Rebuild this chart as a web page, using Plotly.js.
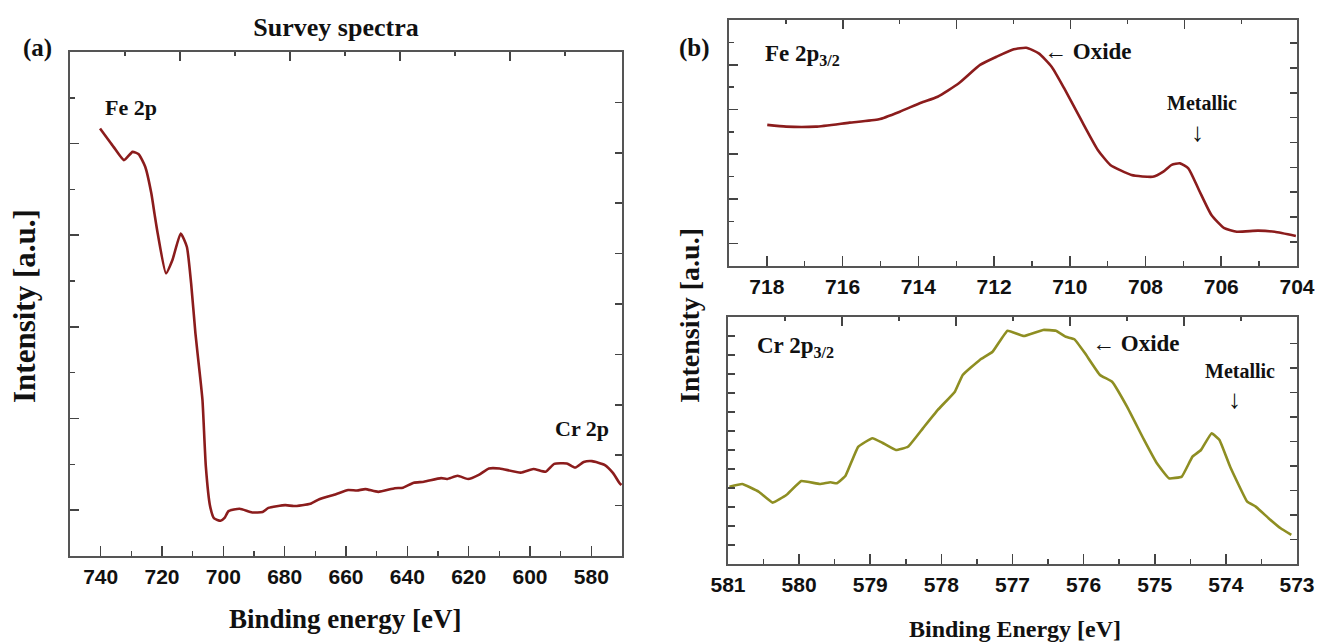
<!DOCTYPE html>
<html>
<head>
<meta charset="utf-8">
<script src="https://cdn.plot.ly/plotly-3.0.1.min.js"></script>
<style>
  html, body { margin: 0; padding: 0; background: #fff; overflow: hidden; }
  #chart { width: 1320px; height: 643px; }
</style>
</head>
<body>
<div id="chart"></div>
<script>
// ---- Survey spectrum (binding energy in eV, intensity in a.u.) ----
const surveyEnergy = [740.2, 735.8, 732.4, 729.6, 727.6, 725.5, 723.5, 722.4, 721.4, 718.7,
  716.6, 713.9, 711.9, 710.5, 709.1, 707.7, 706.8, 705.7, 704.3, 703.0,
  700.9, 699.6, 698.3, 694.7, 690.6, 687.2, 685.3, 679.8, 677.0, 671.6,
  668.7, 663.3, 659.3, 656.4, 653.7, 649.5, 644.1, 641.4, 637.9, 634.6,
  629.0, 627.1, 623.6, 620.2, 616.7, 613.4, 609.9, 603.0, 598.9, 594.9,
  592.1, 588.0, 585.3, 582.5, 579.8, 575.7, 572.9, 570.9, 570.2];
const surveyIntensity = [9.33, 8.93, 8.64, 8.82, 8.77, 8.50, 7.92, 7.45, 7.04, 6.17,
  6.46, 7.04, 6.75, 5.95, 4.86, 3.99, 3.40, 1.95, 1.08, 0.82,
  0.77, 0.83, 0.98, 1.03, 0.95, 0.96, 1.05, 1.11, 1.09, 1.14,
  1.24, 1.35, 1.44, 1.43, 1.46, 1.40, 1.48, 1.49, 1.60, 1.62,
  1.70, 1.68, 1.75, 1.68, 1.77, 1.91, 1.91, 1.82, 1.90, 1.84,
  2.01, 2.02, 1.93, 2.05, 2.07, 1.99, 1.81, 1.60, 1.55];

// ---- Fe 2p3/2 high-resolution region ----
const feEnergy = [717.99, 717.49, 716.71, 715.82, 715.04, 714.49, 713.93, 713.49, 712.93, 712.37,
  711.93, 711.48, 711.15, 710.82, 710.48, 710.15, 709.70, 709.26, 708.93, 708.37,
  707.81, 707.53, 707.31, 707.09, 706.87, 706.59, 706.26, 705.92, 705.59, 705.03,
  704.59, 704.03];
const feIntensity = [6.31, 6.23, 6.23, 6.41, 6.56, 6.90, 7.30, 7.57, 8.17, 8.99,
  9.36, 9.69, 9.76, 9.51, 8.91, 7.95, 6.53, 5.19, 4.52, 4.07,
  3.99, 4.22, 4.52, 4.59, 4.37, 3.40, 2.28, 1.69, 1.53, 1.58,
  1.53, 1.34];

// ---- Cr 2p3/2 high-resolution region ----
const crEnergy = [580.98, 580.80, 580.57, 580.37, 580.18, 579.97, 579.71, 579.56, 579.47, 579.35,
  579.17, 578.97, 578.83, 578.64, 578.47, 578.26, 578.05, 577.81, 577.70, 577.46,
  577.28, 577.07, 576.84, 576.57, 576.39, 576.25, 576.13, 575.98, 575.77, 575.60,
  575.39, 575.15, 574.97, 574.80, 574.62, 574.47, 574.35, 574.20, 574.09, 573.94,
  573.70, 573.58, 573.40, 573.23, 573.08];
const crIntensity = [4.07, 4.21, 3.81, 3.23, 3.63, 4.37, 4.21, 4.30, 4.25, 4.63,
  6.17, 6.62, 6.38, 6.00, 6.17, 7.14, 8.11, 9.07, 9.95, 10.74,
  11.17, 12.28, 12.00, 12.32, 12.28, 11.96, 11.83, 11.09, 9.95, 9.59,
  8.28, 6.53, 5.30, 4.51, 4.60, 5.65, 6.00, 6.88, 6.53, 5.12,
  3.28, 3.02, 2.41, 1.88, 1.53];

// ---- Tick labels ----
const surveyTicks = [740, 720, 700, 680, 660, 640, 620, 600, 580];
const feTicks = [718, 716, 714, 712, 710, 708, 706, 704];
const crTicks = [581, 580, 579, 578, 577, 576, 575, 574, 573];

const W = 1320, H = 643;
const px = v => v / W;          // pixel column -> paper x
const py = v => 1 - v / H;      // pixel row -> paper y

const FE_RED = '#8b1c1c';
const CR_OLIVE = '#8e8e22';
const FRAME = '#555555';
const TICKC = '#444444';
const SERIF = 'Liberation Serif, Times New Roman, serif';
const NARROW = 'Liberation Sans Narrow, Arial Narrow, Liberation Sans, Arial, sans-serif';

const tickFont = { family: NARROW, size: 21, color: '#111', weight: 'bold' };

// Frame axis carrying labelled ticks
function labelledX(domain, range, anchor, ticks, minorStep) {
  return {
    domain, range, anchor, autorange: false,
    tickmode: 'array', tickvals: ticks, ticktext: ticks.map(t => '<b>' + t + '</b>'),
    ticks: 'inside', ticklen: 10, tickwidth: 1.6, tickcolor: TICKC,
    minor: { ticks: 'inside', ticklen: 5, tickwidth: 1.4, tickcolor: TICKC, dtick: minorStep, showgrid: false },
    showline: true, linecolor: FRAME, linewidth: 2.2, mirror: true,
    showgrid: false, zeroline: false, tickfont: tickFont, ticklabelstandoff: 1
  };
}
function frameY(domain, range, anchor, major, minor, len) {
  return {
    domain, range, anchor, autorange: false,
    tickmode: 'array', tickvals: major, showticklabels: false,
    ticks: 'inside', ticklen: len, tickwidth: 1.6, tickcolor: TICKC,
    minor: minor ? { ticks: 'inside', ticklen: 5, tickwidth: 1.4, tickcolor: TICKC, tickvals: minor, showgrid: false } : undefined,
    showline: true, linecolor: FRAME, linewidth: 2.2, mirror: true,
    showgrid: false, zeroline: false
  };
}
// Unlabelled tick rows on the opposite sides of each frame
function topTicks(over, anchor, range) {
  return {
    overlaying: over, anchor, side: 'top', range, autorange: false,
    tickmode: 'array', tickvals: [2, 4, 6, 8], showticklabels: false,
    ticks: 'inside', ticklen: 9, tickwidth: 1.6, tickcolor: TICKC,
    minor: { ticks: 'inside', ticklen: 4, tickwidth: 1.4, tickcolor: TICKC, tickvals: [1, 3, 5, 7, 9], showgrid: false },
    showline: false, showgrid: false, zeroline: false
  };
}
function rightTicks(over, anchor, range) {
  return {
    overlaying: over, anchor, side: 'right', range, autorange: false,
    tickmode: 'array', tickvals: [1, 2, 3, 4, 5, 6, 7, 8, 9], showticklabels: false,
    ticks: 'inside', ticklen: 7, tickwidth: 1.6, tickcolor: TICKC,
    showline: false, showgrid: false, zeroline: false
  };
}

const spec = { type: 'scatter', mode: 'lines', hoverinfo: 'x+y', showlegend: false };
const blank = (xa, ya) => ({ type: 'scatter', mode: 'lines', x: [], y: [], xaxis: xa, yaxis: ya, hoverinfo: 'skip', showlegend: false });

const data = [
  Object.assign({}, spec, { name: 'Survey', x: surveyEnergy, y: surveyIntensity, xaxis: 'x', yaxis: 'y',
    line: { color: FE_RED, width: 2.6, shape: 'spline', smoothing: 0.5 } }),
  Object.assign({}, spec, { name: 'Fe 2p3/2', x: feEnergy, y: feIntensity, xaxis: 'x3', yaxis: 'y3',
    line: { color: FE_RED, width: 2.6, shape: 'spline', smoothing: 0.5 } }),
  Object.assign({}, spec, { name: 'Cr 2p3/2', x: crEnergy, y: crIntensity, xaxis: 'x5', yaxis: 'y5',
    line: { color: CR_OLIVE, width: 2.6, shape: 'spline', smoothing: 0.3 } }),
  blank('x2', 'y2'), blank('x4', 'y4'), blank('x6', 'y6')
];

const domA_x = [px(70), px(622)], domA_y = [py(556), py(52)];
const domB1_x = [px(729), px(1297)], domB1_y = [py(266), py(20)];
const domB2_x = [px(728), px(1297)], domB2_y = [py(564), py(317)];

function label(text, x, y, size, extra) {
  return Object.assign({
    text, x: px(x), y: py(y), xref: 'paper', yref: 'paper', showarrow: false,
    xanchor: 'center', yanchor: 'middle',
    font: { family: SERIF, size, color: '#111', weight: 'bold' }
  }, extra || {});
}

const layout = {
  width: W, height: H,
  margin: { l: 0, r: 0, t: 0, b: 0 },
  paper_bgcolor: '#ffffff', plot_bgcolor: '#ffffff',
  title: { text: 'Survey spectra', x: px(336), y: py(27), xref: 'paper', yref: 'paper',
    xanchor: 'center', yanchor: 'middle', font: { family: SERIF, size: 26, color: '#111', weight: 'bold' } },

  xaxis: labelledX(domA_x, [750, 570], 'y', surveyTicks, 10),
  xaxis2: topTicks('x', 'y', [0, 10.04]),
  yaxis: frameY(domA_y, [0, 11], 'x', [1, 3, 5, 7, 9], [2, 4, 6, 8, 10], 9),
  yaxis2: rightTicks('y', 'x', [0, 10]),

  xaxis3: labelledX(domB1_x, [719, 704], 'y3', feTicks, 1),
  xaxis4: topTicks('x3', 'y3', [0, 9.98]),
  yaxis3: frameY(domB1_y, [0, 11], 'x3', [1, 3, 5, 7, 9], [2, 4, 6, 8, 10], 9),
  yaxis4: rightTicks('y3', 'x3', [0.035, 9.925]),

  xaxis5: labelledX(domB2_x, [581, 573], 'y5', crTicks, 0.5),
  xaxis6: topTicks('x5', 'y5', [0, 9.98]),
  yaxis5: frameY(domB2_y, [0, 13], 'x5', [1, 2, 3, 4, 5, 6, 7, 8, 9, 10, 11, 12], null, 7),
  yaxis6: rightTicks('y5', 'x5', [0, 10.08]),

  annotations: [
    label('(a)', 37, 48, 25),
    label('(b)', 694, 48, 25),
    label('Fe 2p', 131, 108, 22),
    label('Cr 2p', 582, 428, 22),
    label('Binding energy [eV]', 345, 619, 27),
    label('Intensity [a.u.]', 24, 306, 31, { textangle: -90 }),

    label('Fe 2p<sub>3/2</sub>', 802, 55, 23),
    label('\u2190 Oxide', 1088, 52, 23),
    label('Metallic', 1202, 103, 20),
    label('\u2193', 1197, 132, 26),

    label('Cr 2p<sub>3/2</sub>', 795, 347, 23),
    label('\u2190 Oxide', 1136, 343, 23),
    label('Metallic', 1240, 371, 20),
    label('\u2193', 1234, 399, 26),

    label('Intensity [a.u.]', 690, 316, 28, { textangle: -90 }),
    label('Binding Energy [eV]', 1015, 629, 24)
  ]
};

Plotly.newPlot('chart', data, layout, { staticPlot: true, displayModeBar: false });
</script>
</body>
</html>
